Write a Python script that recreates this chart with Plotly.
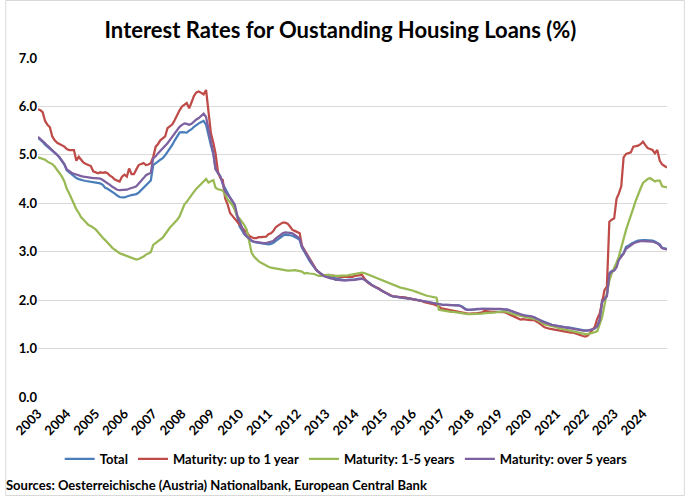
import pandas as pd
import plotly.graph_objects as go

dates = pd.date_range("2003-01-01", periods=263, freq="MS")

total = [
    5.35,5.31,5.27,5.21,5.17,5.12,5.09,5.04,5.00,4.94,4.86,4.80,  # 2003
    4.68,4.64,4.60,4.57,4.52,4.50,4.48,4.47,4.46,4.45,4.44,4.43,  # 2004
    4.42,4.42,4.41,4.38,4.32,4.30,4.27,4.24,4.20,4.16,4.13,4.12,  # 2005
    4.12,4.14,4.16,4.17,4.18,4.19,4.22,4.27,4.33,4.38,4.43,4.47,  # 2006
    4.79,4.82,4.86,4.90,4.93,4.99,5.06,5.12,5.21,5.30,5.38,5.46,  # 2007
    5.47,5.46,5.46,5.50,5.53,5.58,5.62,5.65,5.68,5.70,5.62,5.38,  # 2008
    5.20,5.02,4.72,4.62,4.55,4.40,4.30,4.20,4.12,4.03,3.90,3.72,  # 2009
    3.52,3.44,3.36,3.31,3.26,3.22,3.20,3.19,3.18,3.17,3.16,3.15,  # 2010
    3.15,3.16,3.18,3.22,3.26,3.30,3.33,3.35,3.35,3.34,3.33,3.31,  # 2011
    3.28,3.24,3.08,3.00,2.90,2.82,2.75,2.68,2.62,2.58,2.54,2.51,  # 2012
    2.49,2.48,2.47,2.45,2.44,2.43,2.42,2.41,2.41,2.42,2.42,2.43,  # 2013
    2.43,2.44,2.44,2.45,2.43,2.40,2.36,2.32,2.29,2.26,2.23,2.21,  # 2014
    2.18,2.15,2.12,2.09,2.08,2.07,2.07,2.06,2.05,2.05,2.04,2.03,  # 2015
    2.03,2.02,2.01,2.00,1.99,1.98,1.97,1.96,1.95,1.94,1.92,1.91,  # 2016
    1.90,1.90,1.90,1.90,1.90,1.89,1.89,1.89,1.88,1.86,1.82,1.80,  # 2017
    1.80,1.81,1.81,1.81,1.82,1.82,1.82,1.82,1.82,1.82,1.82,1.82,  # 2018
    1.82,1.82,1.81,1.81,1.80,1.78,1.76,1.74,1.71,1.70,1.69,1.68,  # 2019
    1.68,1.67,1.66,1.64,1.61,1.59,1.57,1.54,1.52,1.50,1.49,1.48,  # 2020
    1.47,1.46,1.46,1.45,1.44,1.44,1.43,1.42,1.40,1.39,1.38,1.37,  # 2021
    1.37,1.37,1.38,1.40,1.42,1.47,1.59,2.00,2.04,2.10,2.56,2.60,  # 2022
    2.62,2.75,2.86,2.92,2.97,3.10,3.12,3.16,3.19,3.21,3.23,3.24,  # 2023
    3.24,3.24,3.24,3.23,3.23,3.21,3.18,3.15,3.08,3.07,3.06,       # 2024
]

up_to_1y = [
    5.94,5.92,5.88,5.70,5.62,5.57,5.38,5.30,5.25,5.22,5.20,5.17,  # 2003
    5.12,5.10,5.10,5.10,4.88,4.96,4.90,4.84,4.81,4.79,4.77,4.66,  # 2004
    4.64,4.62,4.64,4.63,4.64,4.62,4.57,4.54,4.49,4.47,4.45,4.55,  # 2005
    4.59,4.55,4.72,4.60,4.60,4.70,4.79,4.81,4.83,4.79,4.80,4.83,  # 2006
    4.96,5.17,5.22,5.30,5.35,5.38,5.55,5.60,5.63,5.72,5.83,5.92,  # 2007
    6.00,6.04,6.07,5.96,6.07,6.22,6.29,6.31,6.28,6.25,6.34,5.85,  # 2008
    5.45,5.25,5.03,4.65,4.52,4.48,4.10,3.98,3.80,3.74,3.68,3.60,  # 2009
    3.55,3.50,3.44,3.40,3.33,3.30,3.28,3.28,3.30,3.30,3.30,3.31,  # 2010
    3.36,3.38,3.42,3.50,3.54,3.58,3.60,3.60,3.58,3.52,3.45,3.43,  # 2011
    3.40,3.38,3.12,3.04,2.95,2.87,2.78,2.70,2.62,2.58,2.53,2.51,  # 2012
    2.52,2.52,2.51,2.50,2.50,2.49,2.48,2.48,2.48,2.47,2.48,2.48,  # 2013
    2.50,2.51,2.52,2.52,2.45,2.38,2.34,2.30,2.28,2.26,2.24,2.20,  # 2014
    2.17,2.14,2.12,2.10,2.08,2.07,2.07,2.06,2.06,2.05,2.05,2.04,  # 2015
    2.03,2.02,2.00,1.99,1.98,1.96,1.95,1.94,1.93,1.91,1.89,1.87,  # 2016
    1.83,1.82,1.81,1.80,1.79,1.78,1.77,1.76,1.75,1.73,1.72,1.72,  # 2017
    1.72,1.72,1.73,1.73,1.74,1.75,1.78,1.77,1.77,1.76,1.76,1.76,  # 2018
    1.76,1.76,1.75,1.74,1.71,1.69,1.67,1.65,1.62,1.60,1.61,1.60,  # 2019
    1.60,1.59,1.59,1.58,1.55,1.52,1.48,1.44,1.42,1.41,1.40,1.39,  # 2020
    1.38,1.37,1.37,1.36,1.35,1.34,1.33,1.33,1.31,1.29,1.27,1.26,  # 2021
    1.25,1.27,1.32,1.38,1.45,1.62,1.72,1.95,2.21,2.28,3.62,3.66,  # 2022
    3.69,4.10,4.20,4.35,4.95,5.02,5.04,5.05,5.17,5.18,5.19,5.22,  # 2023
    5.27,5.20,5.14,5.12,5.10,5.03,5.10,4.88,4.80,4.77,4.74,       # 2024
]

one_to_5y = [
    4.95,4.93,4.92,4.90,4.86,4.84,4.81,4.76,4.69,4.63,4.55,4.45,  # 2003
    4.30,4.20,4.09,3.98,3.88,3.80,3.71,3.66,3.60,3.55,3.53,3.50,  # 2004
    3.46,3.40,3.34,3.29,3.24,3.18,3.13,3.08,3.04,3.00,2.97,2.95,  # 2005
    2.93,2.91,2.89,2.87,2.86,2.84,2.85,2.87,2.90,2.94,2.97,2.99,  # 2006
    3.14,3.18,3.21,3.25,3.29,3.36,3.44,3.50,3.55,3.60,3.66,3.73,  # 2007
    3.85,3.98,4.03,4.11,4.17,4.24,4.30,4.35,4.40,4.46,4.50,4.43,  # 2008
    4.46,4.48,4.32,4.29,4.28,4.26,4.18,4.08,4.02,3.96,3.86,3.73,  # 2009
    3.68,3.62,3.55,3.45,3.20,2.98,2.90,2.84,2.80,2.77,2.74,2.71,  # 2010
    2.69,2.67,2.66,2.65,2.64,2.63,2.62,2.62,2.61,2.61,2.62,2.62,  # 2011
    2.61,2.60,2.59,2.55,2.56,2.55,2.55,2.54,2.52,2.50,2.50,2.51,  # 2012
    2.51,2.52,2.51,2.50,2.50,2.50,2.50,2.50,2.51,2.51,2.52,2.53,  # 2013
    2.54,2.55,2.56,2.57,2.56,2.54,2.52,2.49,2.47,2.45,2.43,2.41,  # 2014
    2.39,2.37,2.35,2.33,2.31,2.29,2.27,2.26,2.25,2.24,2.23,2.22,  # 2015
    2.20,2.18,2.16,2.14,2.12,2.10,2.09,2.08,2.07,2.06,2.05,1.80,  # 2016
    1.79,1.78,1.77,1.77,1.76,1.76,1.75,1.74,1.73,1.72,1.71,1.71,  # 2017
    1.71,1.71,1.71,1.71,1.72,1.72,1.73,1.73,1.73,1.74,1.74,1.75,  # 2018
    1.76,1.76,1.77,1.76,1.75,1.73,1.71,1.70,1.68,1.67,1.66,1.65,  # 2019
    1.64,1.63,1.62,1.61,1.59,1.56,1.53,1.50,1.49,1.48,1.47,1.46,  # 2020
    1.44,1.42,1.41,1.40,1.39,1.38,1.36,1.35,1.34,1.33,1.32,1.31,  # 2021
    1.30,1.30,1.31,1.33,1.34,1.36,1.50,1.65,1.90,2.14,2.40,2.55,  # 2022
    2.65,2.78,2.90,3.10,3.30,3.45,3.60,3.73,3.90,4.05,4.20,4.30,  # 2023
    4.42,4.46,4.50,4.52,4.48,4.45,4.47,4.47,4.35,4.34,4.33,       # 2024
]

over_5y = [
    5.37,5.33,5.28,5.24,5.19,5.14,5.10,5.05,5.00,4.95,4.88,4.81,  # 2003
    4.70,4.66,4.63,4.61,4.59,4.57,4.56,4.55,4.54,4.54,4.53,4.52,  # 2004
    4.52,4.52,4.51,4.48,4.45,4.42,4.38,4.34,4.30,4.28,4.27,4.27,  # 2005
    4.27,4.28,4.30,4.31,4.33,4.35,4.40,4.46,4.52,4.58,4.61,4.63,  # 2006
    4.93,4.97,5.03,5.08,5.13,5.17,5.24,5.31,5.38,5.45,5.51,5.58,  # 2007
    5.62,5.65,5.64,5.62,5.64,5.69,5.73,5.76,5.80,5.85,5.78,5.55,  # 2008
    5.28,5.03,4.70,4.63,4.56,4.40,4.24,4.18,4.12,4.05,3.97,3.75,  # 2009
    3.62,3.48,3.38,3.32,3.27,3.23,3.21,3.20,3.19,3.18,3.18,3.18,  # 2010
    3.19,3.20,3.22,3.27,3.31,3.35,3.38,3.40,3.40,3.39,3.38,3.35,  # 2011
    3.31,3.27,3.11,3.02,2.93,2.85,2.77,2.69,2.62,2.58,2.54,2.50,  # 2012
    2.48,2.46,2.45,2.44,2.42,2.42,2.41,2.41,2.41,2.41,2.42,2.42,  # 2013
    2.42,2.43,2.44,2.44,2.42,2.39,2.35,2.31,2.28,2.25,2.22,2.20,  # 2014
    2.17,2.14,2.11,2.09,2.08,2.07,2.06,2.06,2.05,2.04,2.03,2.03,  # 2015
    2.02,2.02,2.01,2.00,1.99,1.98,1.97,1.96,1.95,1.94,1.92,1.91,  # 2016
    1.90,1.90,1.90,1.90,1.90,1.89,1.89,1.89,1.88,1.85,1.81,1.80,  # 2017
    1.80,1.81,1.81,1.82,1.82,1.82,1.82,1.82,1.83,1.83,1.82,1.82,  # 2018
    1.82,1.82,1.81,1.81,1.80,1.78,1.76,1.74,1.72,1.70,1.69,1.68,  # 2019
    1.68,1.67,1.66,1.64,1.61,1.59,1.56,1.54,1.52,1.50,1.49,1.48,  # 2020
    1.47,1.46,1.45,1.45,1.44,1.43,1.42,1.41,1.40,1.39,1.38,1.37,  # 2021
    1.37,1.37,1.38,1.40,1.42,1.46,1.58,1.96,2.01,2.08,2.53,2.59,  # 2022
    2.61,2.68,2.83,2.90,2.96,3.06,3.10,3.14,3.17,3.19,3.21,3.22,  # 2023
    3.22,3.22,3.22,3.21,3.21,3.19,3.17,3.13,3.07,3.06,3.05,       # 2024
]

series_names = ["Total", "Maturity: up to 1 year", "Maturity: 1-5 years", "Maturity: over 5 years"]
series_values = [total, up_to_1y, one_to_5y, over_5y]
series_colors = ["#4A7EBB", "#BE4B48", "#98B954", "#7D60A0"]

title_text = "Interest Rates for Oustanding Housing Loans (%)"
source_text = "Sources: Oesterreichische (Austria) Nationalbank, European Central Bank"

FONT = "Lato, 'Open Sans', sans-serif"

fig = go.Figure()
for name, vals, col in zip(series_names, series_values, series_colors):
    fig.add_trace(go.Scatter(
        x=dates, y=vals, name=name, mode="lines",
        line=dict(color=col, width=2.25),
    ))

W, H = 685, 496
L, R, T, B = 33, 18, 58, 99
pw, ph = W - L - R, H - T - B

fig.update_layout(
    width=W, height=H,
    margin=dict(l=L, r=R, t=T, b=B),
    paper_bgcolor="white", plot_bgcolor="white",
    font=dict(family=FONT, color="black"),
    title=dict(text="<b>" + title_text + "</b>", x=0.497, xanchor="center",
               y=1 - 30 / H, yanchor="middle",
               font=dict(size=22, family=FONT, color="black")),
    showlegend=True,
    legend=dict(orientation="h", x=0.49, xanchor="center", y=-(459 - (H - B)) / ph,
                yanchor="middle",
                font=dict(size=13, family=FONT, color="black", weight="bold"),
                itemwidth=30, tracegroupgap=0, bgcolor="rgba(0,0,0,0)"),
    xaxis=dict(
        type="date",
        range=["2003-01-01", "2024-11-01"],
        tick0="2003-01-01", dtick="M12", tickformat="%Y",
        tickangle=-45, showgrid=False, zeroline=False,
        showline=False, ticks="outside", ticklen=3, tickcolor="rgba(0,0,0,0)",
        tickfont=dict(size=13, family=FONT, color="black", weight="bold"),
    ),
    yaxis=dict(
        range=[0, 7], dtick=1, tickformat=".1f",
        showgrid=True, gridcolor="#D9D9D9", gridwidth=1,
        zeroline=False, showline=False,
        ticks="",
        tickfont=dict(size=13, family=FONT, color="black", weight="bold"),
    ),
    shapes=[dict(type="rect", xref="paper", yref="paper",
                 x0=(0.5 - L) / pw, x1=(W - 0.5 - L) / pw,
                 y0=((H - B) - (H - 0.5)) / ph, y1=((H - B) - 0.5) / ph,
                 line=dict(color="#D9D9D9", width=1), fillcolor="rgba(0,0,0,0)",
                 layer="below")],
    annotations=[dict(text="<b>" + source_text + "</b>", xref="paper", yref="paper",
                      x=(-1 - L) / pw, xanchor="left",
                      y=-(485 - (H - B)) / ph, yanchor="middle",
                      showarrow=False, font=dict(size=13, family=FONT, color="black"))],
)

fig.write_html("out.html")
